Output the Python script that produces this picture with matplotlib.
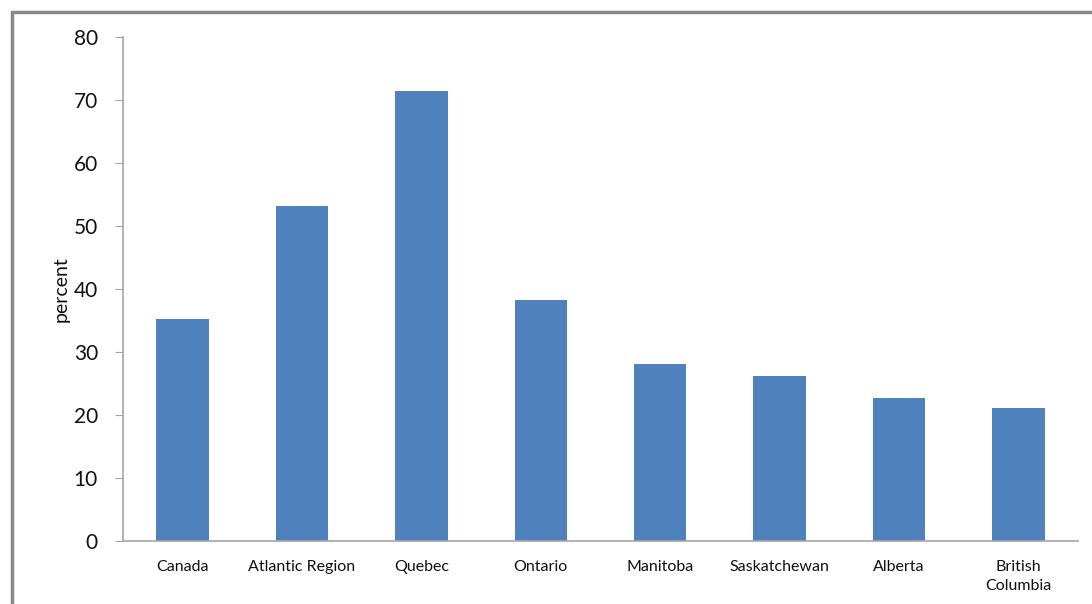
import matplotlib
matplotlib.use("Agg")
import matplotlib.pyplot as plt
from matplotlib.patches import Rectangle

regions = ['Canada', 'Atlantic Region', 'Quebec', 'Ontario', 'Manitoba',
           'Saskatchewan', 'Alberta', 'British\nColumbia']
percent = [35.2, 53.2, 71.4, 38.3, 28.1, 26.2, 22.7, 21.1]

plt.rcParams['font.family'] = ['Lato', 'DejaVu Sans']

fig = plt.figure(figsize=(10.92, 6.04), dpi=100)
ax = fig.add_axes([123 / 1092, 63 / 604, 955 / 1092, 504 / 604])

# outer chart-area frame (only left/top visible in the reference)
fig.patches.append(Rectangle((12 / 1092, -0.1), 1.2, (604 - 12) / 604 + 0.1,
                             transform=fig.transFigure, fill=False,
                             edgecolor='#888888', linewidth=2.5))

x = range(len(regions))
ax.bar(x, percent, width=0.44, color='#4f81bd')

ax.set_xlim(-0.5, len(regions) - 0.5)
ax.set_ylim(0, 80)
ax.set_yticks(range(0, 81, 10))
ax.set_xticks(list(x))
ax.set_xticklabels(regions, fontsize=11.5, color='#111111', linespacing=1.4)
ax.tick_params(axis='x', length=0, pad=14)
ax.tick_params(axis='y', length=6, color='#a6a6a6', labelsize=15,
               labelcolor='#111111', pad=12)
ax.set_ylabel('percent', fontsize=14, labelpad=3, color='#111111')

for s in ['top', 'right']:
    ax.spines[s].set_visible(False)
for s in ['left', 'bottom']:
    ax.spines[s].set_color('#a6a6a6')
    ax.spines[s].set_linewidth(1.2)

fig.savefig('out.png', dpi=100)
